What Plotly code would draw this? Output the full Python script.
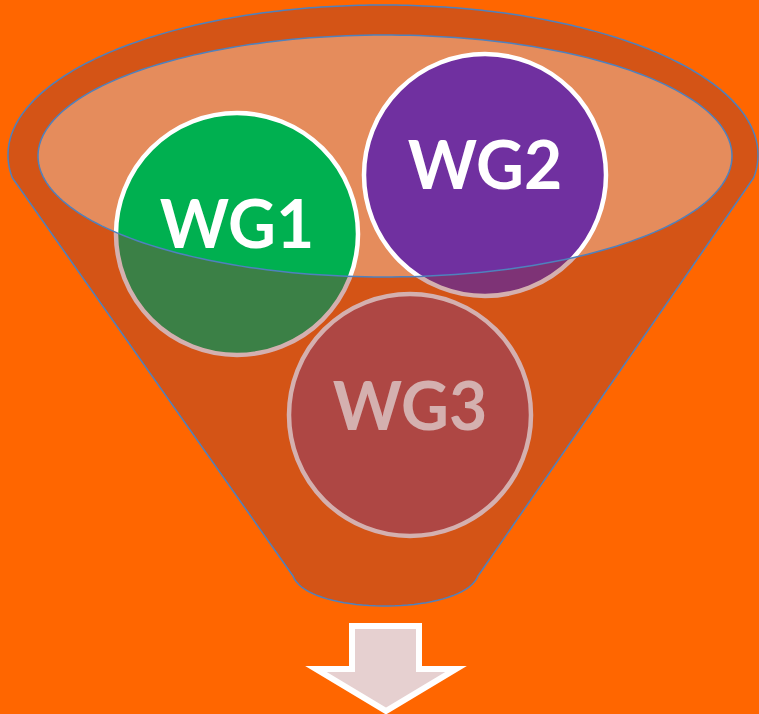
import numpy as np
import plotly.graph_objects as go

# ---- data ----
labels = ["WG1", "WG2", "WG3"]
label_colors = ["#FFFFFF", "#FFFFFF", "#FFFFFF"]
circle_colors = ["#00B050", "#7030A0", "#C0504D"]

W, H = 759, 714

# geometry (pixel-like layout coordinates)
cx_list = [237, 485, 410]
cy_list = [234, 175, 415]
R = 121

def ell_pts(cx, cy, rx, ry, t0, t1, n=120):
    t = np.linspace(t0, t1, n)
    return cx + rx * np.cos(t), cy + ry * np.sin(t)

def path_from(xs, ys, close=True):
    s = "M %.2f,%.2f " % (xs[0], ys[0])
    s += " ".join("L %.2f,%.2f" % (x, y) for x, y in zip(xs[1:], ys[1:]))
    if close:
        s += " Z"
    return s

# outer funnel: upper part of outer ellipse + sides + rounded bottom
ocx, ocy, orx, ory = 383, 155, 375, 150
ya = 178
ta = np.arcsin((ya - ocy) / ory)
ex, ey = ell_pts(ocx, ocy, orx, ory, np.pi - ta, 2 * np.pi + ta, 240)
P0 = np.array([478, 576]); C1 = np.array([462, 616]); C2 = np.array([308, 616]); P3 = np.array([293, 576])
tt = np.linspace(0, 1, 40)[:, None]
bez = (1 - tt) ** 3 * P0 + 3 * (1 - tt) ** 2 * tt * C1 + 3 * (1 - tt) * tt ** 2 * C2 + tt ** 3 * P3
fx = list(ex) + list(bez[:, 0])
fy = list(ey) + list(bez[:, 1])
funnel_path = path_from(fx, fy)

# inner ellipse
icx, icy, irx, iry = 385, 156, 347, 121
ix, iy = ell_pts(icx, icy, irx, iry, 0, 2 * np.pi, 240)
inner_path = path_from(ix, iy)

shapes = []
shapes.append(dict(type="path", path=inner_path, fillcolor="rgb(229,140,92)",
                   line=dict(width=0), layer="below", xref="x", yref="y"))
for cx, cy, col in zip(cx_list, cy_list, circle_colors):
    shapes.append(dict(type="circle", x0=cx - R, x1=cx + R, y0=cy - R, y1=cy + R,
                       fillcolor=col, line=dict(color="white", width=4.5),
                       layer="below", xref="x", yref="y"))
shapes.append(dict(type="path", path=funnel_path + " " + inner_path, fillrule="evenodd",
                   fillcolor="rgba(148,57,55,0.4)", line=dict(width=0),
                   layer="above", xref="x", yref="y"))
shapes.append(dict(type="path", path=funnel_path, fillcolor="rgba(0,0,0,0)",
                   line=dict(color="#4F81BD", width=1.5), layer="above", xref="x", yref="y"))
shapes.append(dict(type="path", path=inner_path, fillcolor="rgba(0,0,0,0)",
                   line=dict(color="#4F81BD", width=1.5), layer="above", xref="x", yref="y"))
ax = [352, 419, 419, 456, 386, 316, 352]
ay = [626, 626, 669, 669, 711, 669, 669]
shapes.append(dict(type="path", path=path_from(ax, ay), fillcolor="#E6D0D0",
                   line=dict(color="white", width=6), layer="above", xref="x", yref="y"))

fig = go.Figure()
fig.add_trace(go.Scatter(
    x=cx_list, y=[cy_list[0] - 3, cy_list[1] - 3, cy_list[2] - 2],
    mode="text", text=labels,
    textfont=dict(family="Lato", size=66, color=label_colors, weight="bold"),
    textposition="middle center", hoverinfo="skip", showlegend=False))

fig.update_layout(
    width=W, height=H, margin=dict(l=0, r=0, t=0, b=0),
    paper_bgcolor="#FF6600", plot_bgcolor="#FF6600",
    xaxis=dict(range=[0, W], visible=False, fixedrange=True),
    yaxis=dict(range=[H, 0], visible=False, fixedrange=True),
    shapes=shapes, showlegend=False)

fig.write_html("out.html", config={"displayModeBar": False},
               post_script="document.body.style.margin='0';document.body.style.background='#FF6600';")
